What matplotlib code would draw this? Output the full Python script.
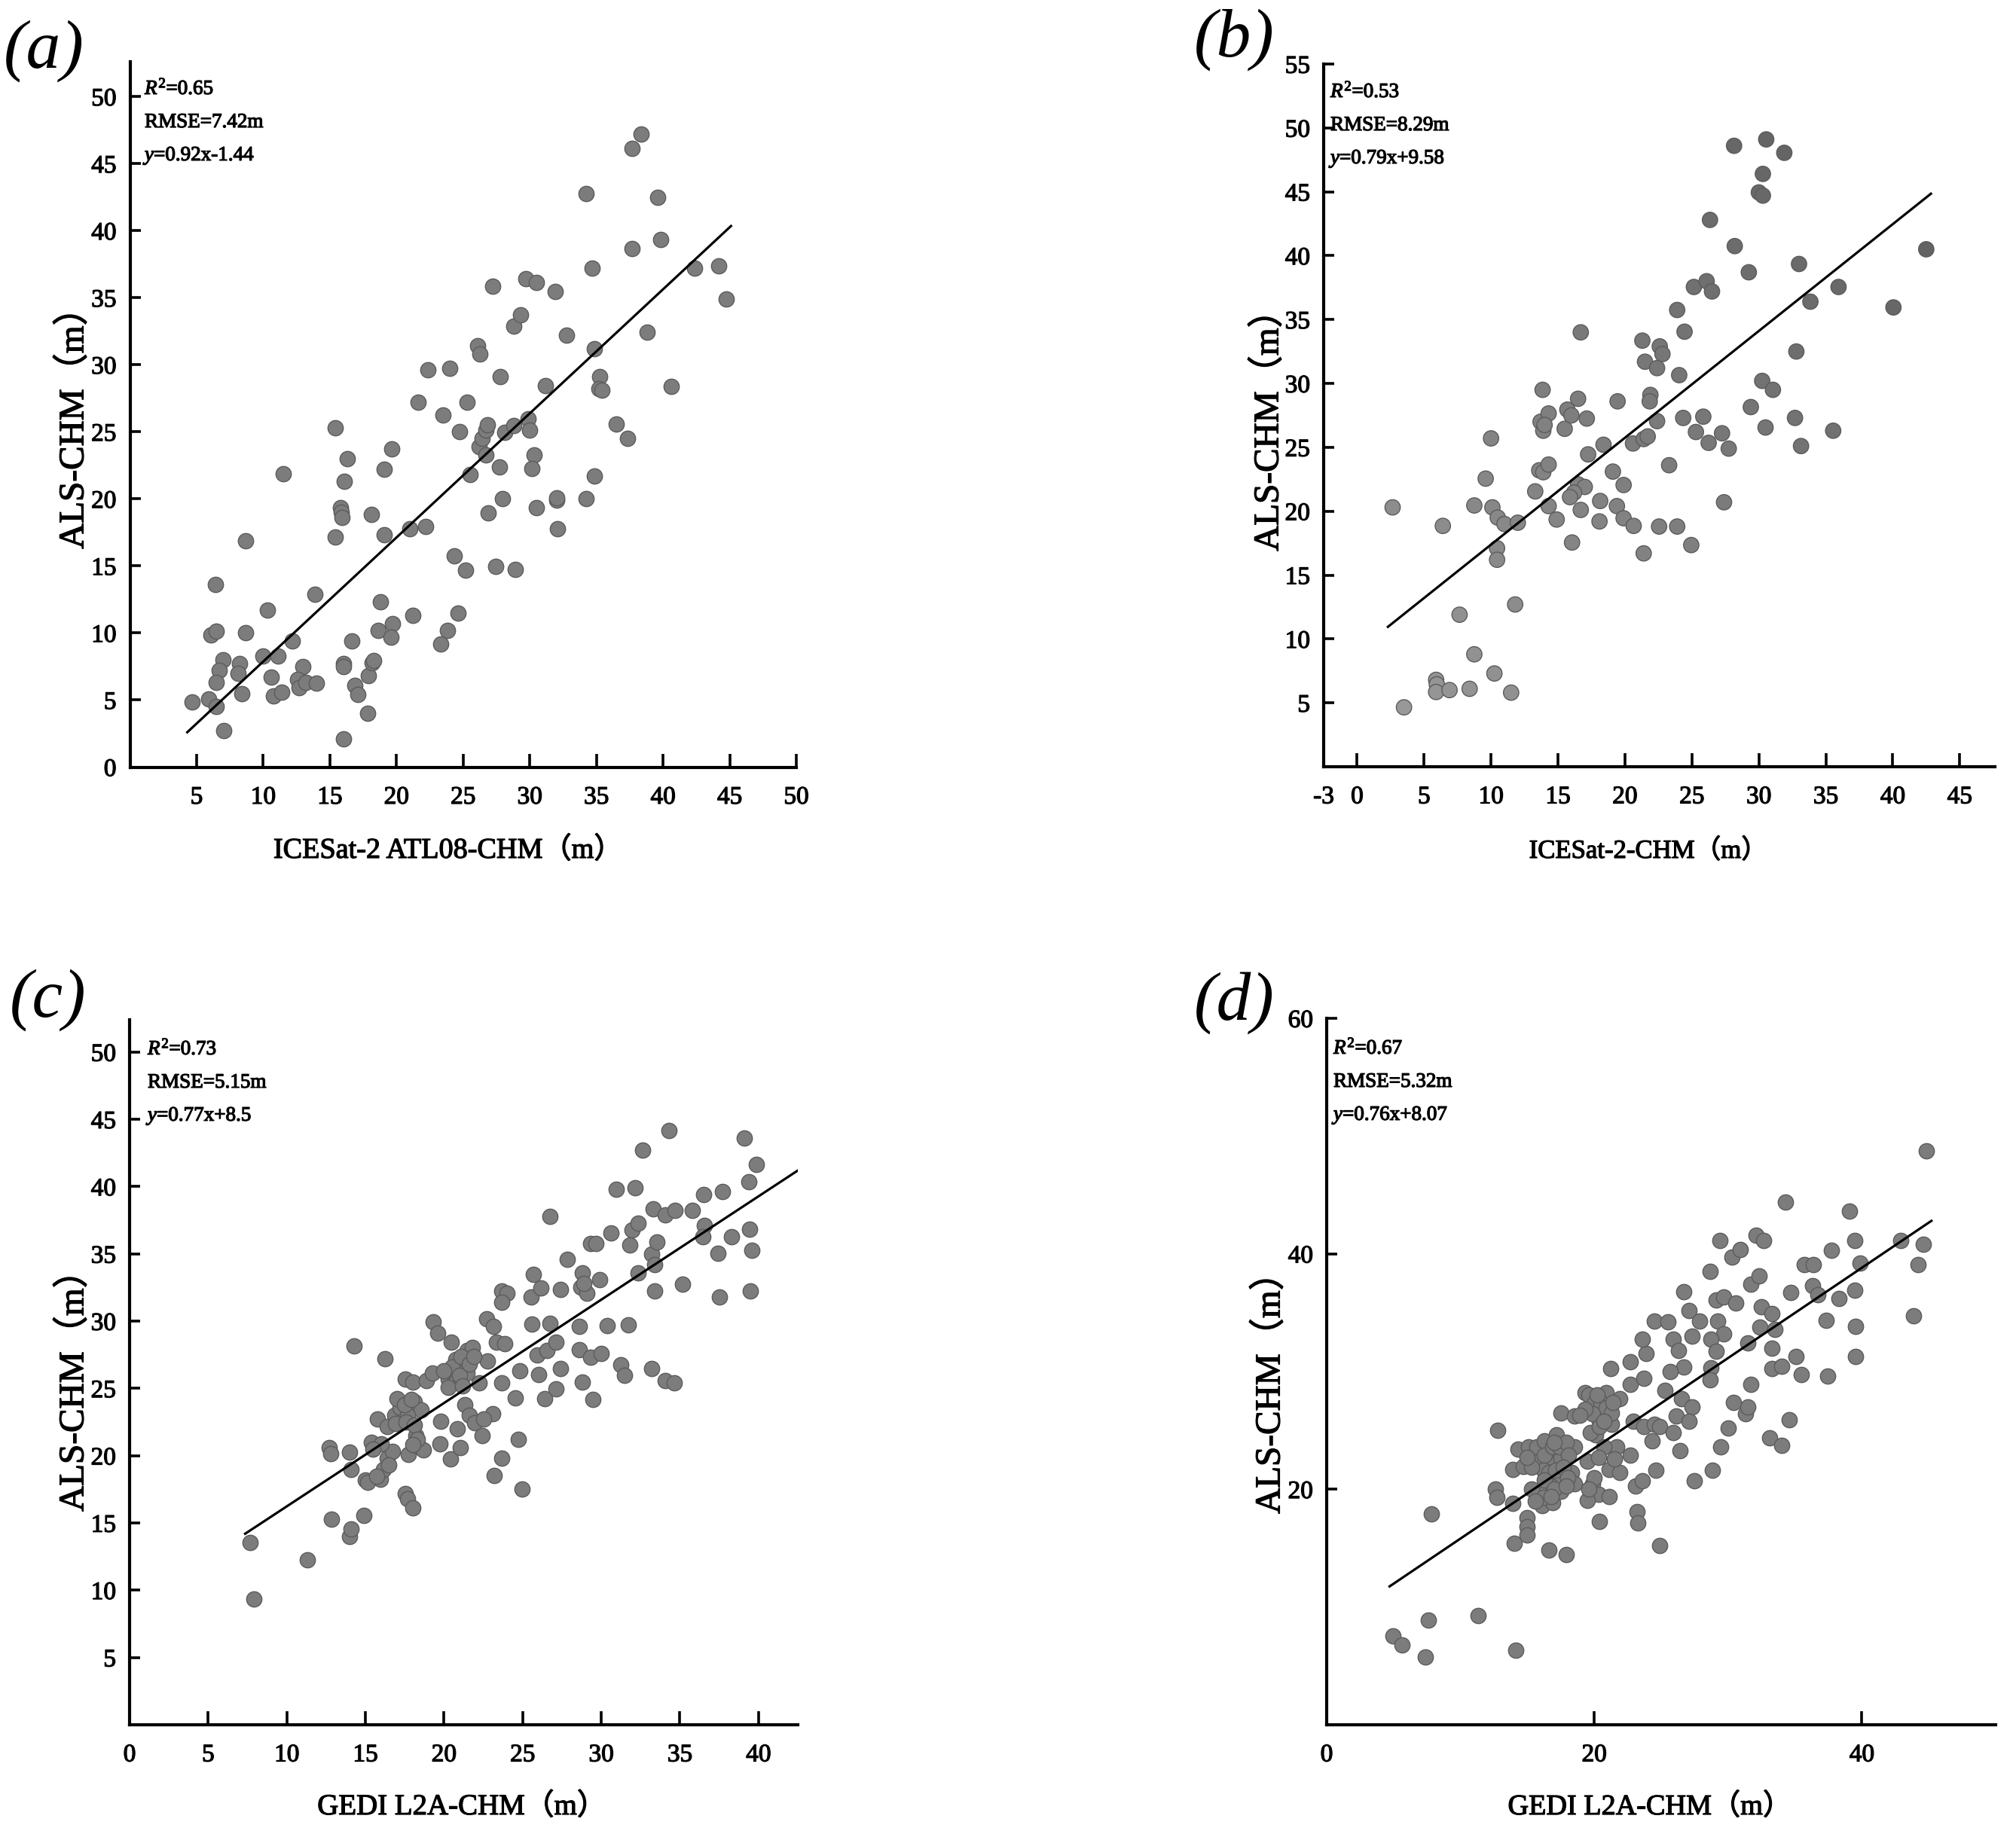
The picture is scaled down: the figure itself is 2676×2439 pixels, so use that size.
import matplotlib
matplotlib.use("Agg")
import matplotlib.pyplot as plt
import matplotlib.patheffects as pe

plt.rcParams['font.family'] = ['Liberation Serif', 'Noto Sans CJK SC']
plt.rcParams['mathtext.fontset'] = 'custom'
plt.rcParams['mathtext.rm'] = 'Liberation Serif'
plt.rcParams['mathtext.it'] = 'Liberation Serif:italic'

W, H = 2676, 2439

# panel a
a_x = [4.68, 5.9, 6.45, 7.05, 6.4, 6.1, 6.5, 8.7, 8.7, 10.3, 10.0, 11.1, 12.2, 11.5, 10.6, 10.75, 11.4, 7.0, 6.7, 6.5,
       8.2, 8.1, 8.4, 12.95, 12.55, 12.7, 13.2, 14.0, 13.9, 15.4, 16.3, 16.1, 15.8, 15.85, 15.9, 15.4, 16.05, 16.0, 16.05, 16.65,
       16.85, 17.1, 17.85, 17.9, 18.15, 18.3, 18.1, 19.1, 18.8, 18.6, 19.7, 19.6, 19.1, 19.65, 21.0, 22.2, 21.2, 21.6, 22.35, 23.5,
       24.0, 23.3, 23.8, 24.6, 24.35, 25.2, 24.75, 25.3, 25.5, 26.1, 26.25, 26.2, 26.4, 26.7, 26.8, 26.7, 26.9, 27.2, 27.45, 27.8,
       27.75, 27.95, 28.1, 28.9, 28.8, 28.8, 29.3, 29.7, 30.5, 29.9, 30.0, 30.3, 30.15, 30.5, 31.15, 31.9, 32.0, 32.0, 32.1, 32.75,
       34.25, 34.25, 34.7, 34.85, 34.85, 35.25, 35.2, 35.4, 36.5, 37.35, 37.7, 38.35, 37.65, 38.8, 39.6, 39.8, 40.6, 42.35, 44.2, 44.75]
a_y = [4.86, 5.1, 4.5, 2.7, 13.6, 9.85, 10.15, 10.0, 16.9, 11.7, 8.3, 8.3, 9.4, 21.85, 6.7, 5.3, 5.6, 8.0, 7.2, 6.3,
       7.7, 7.0, 5.5, 7.5, 6.55, 5.9, 6.3, 6.25, 12.9, 25.3, 23.0, 21.3, 19.35, 19.0, 18.6, 17.15, 2.1, 7.7, 7.5, 9.4,
       6.1, 5.4, 4.0, 6.85, 7.8, 7.95, 18.85, 17.3, 12.35, 10.2, 10.7, 9.7, 22.2, 23.75, 17.75, 17.95, 11.3, 27.2, 29.65, 26.25,
       29.75, 9.2, 10.2, 11.5, 15.75, 14.7, 25.0, 27.2, 21.8, 31.4, 30.8, 23.9, 24.5, 25.15, 25.55, 23.3, 18.95, 35.85, 14.95, 29.15,
       22.4, 20.05, 24.95, 14.75, 25.45, 32.9, 33.7, 36.4, 36.15, 26.0, 25.15, 23.3, 22.25, 19.35, 28.45, 35.45, 19.9, 20.1, 17.75, 32.2,
       42.75, 20.05, 37.2, 31.2, 21.7, 29.15, 28.2, 28.1, 25.6, 24.5, 46.15, 47.2, 38.65, 32.45, 42.5, 39.35, 28.4, 37.2, 37.4, 34.9]
a_line_x = [4.3, 45.1]
a_line_y = [2.6, 40.35]

# panel b
b_x = [2.65, 3.5, 6.4, 7.65, 8.75, 5.9, 5.95, 5.9, 6.9, 8.4, 10.25, 11.5, 11.8, 9.6, 10.0, 8.75, 10.1, 10.5, 11.0, 12.0,
       10.45, 10.45, 13.3, 13.85, 13.7, 13.9, 14.3, 14.0, 13.6, 13.9, 14.3, 14.3, 14.9, 15.5, 15.7, 16.0, 16.5, 16.7, 17.15, 17.25,
       16.5, 17.0, 16.2, 15.9, 16.7, 16.05, 18.15, 18.1, 18.4, 19.1, 19.45, 19.4, 19.9, 19.9, 20.65, 20.6, 21.4, 21.7, 21.3, 21.5,
       21.9, 21.85, 21.4, 22.4, 22.6, 22.8, 22.4, 22.55, 23.3, 23.9, 24.05, 23.9, 24.45, 24.35, 24.95, 25.15, 26.1, 26.5, 25.3, 25.85,
       26.25, 26.35, 27.25, 27.4, 27.75, 28.15, 28.2, 29.25, 29.4, 30.0, 30.3, 30.3, 30.55, 30.25, 31.05, 30.5, 31.9, 33.0, 32.8, 32.7,
       33.15, 33.85, 35.55, 35.95, 40.05, 42.5]
b_y = [20.3, 4.65, 18.85, 11.9, 8.8, 6.8, 6.45, 5.85, 6.0, 6.1, 7.3, 5.8, 12.7, 22.55, 25.7, 20.45, 20.3, 19.5, 19.0, 19.1,
       17.1, 16.2, 21.55, 29.5, 27.0, 26.3, 27.65, 26.75, 23.2, 23.05, 23.65, 20.4, 19.35, 26.45, 27.95, 27.5, 28.8, 34.0, 27.25, 24.45,
       22.1, 21.9, 21.45, 21.1, 20.1, 17.55, 20.8, 19.2, 25.2, 23.1, 28.6, 20.4, 22.05, 19.45, 18.85, 25.3, 25.65, 25.85, 33.35, 31.7,
       29.1, 28.6, 16.7, 27.05, 32.9, 32.3, 31.2, 18.8, 23.6, 18.8, 30.65, 35.75, 34.05, 27.3, 17.35, 37.55, 38.0, 37.2, 26.2, 27.4,
       25.35, 42.8, 26.1, 20.7, 24.9, 48.6, 40.75, 38.7, 28.15, 44.95, 44.7, 46.4, 49.1, 30.2, 29.5, 26.55, 48.05, 39.35, 32.5, 27.3,
       25.1, 36.4, 26.3, 37.55, 35.95, 40.5]
b_line_x = [2.3, 42.85]
b_line_y = [10.95, 44.85]

# panel c
c_x = [7.65, 7.9, 11.3, 12.7, 12.8, 12.85, 14.0, 14.1, 14.0, 14.1, 14.3, 14.9, 15.0, 15.15, 16.25, 15.4, 15.75, 15.95, 16.15, 16.4,
       16.7, 16.0, 16.4, 16.85, 17.2, 17.0, 17.35, 17.55, 18.0, 17.55, 17.7, 18.0, 17.75, 18.2, 18.4, 18.7, 18.1, 18.55, 17.7, 18.9,
       19.25, 19.3, 19.6, 19.75, 19.8, 20.25, 20.6, 20.95, 21.3, 21.45, 21.8, 20.45, 20.75, 21.1, 20.25, 21.45, 20.75, 20.4, 20.85, 21.05,
       21.3, 21.6, 21.95, 22.25, 22.4, 22.75, 23.1, 22.5, 22.7, 23.15, 23.2, 23.35, 23.85, 23.65, 23.65, 23.65, 24.0, 23.65, 24.55, 24.8,
       24.7, 24.95, 25.6, 25.7, 25.55, 26.15, 25.9, 26.0, 26.4, 26.75, 27.1, 26.75, 26.55, 27.1, 27.4, 27.4, 27.85, 28.6, 28.6, 28.8,
       28.8, 28.7, 29.1, 29.3, 29.65, 29.3, 30.0, 29.45, 29.9, 30.4, 30.6, 30.95, 31.25, 31.5, 31.7, 31.8, 31.95, 32.35, 32.15, 32.35,
       32.65, 33.2, 33.55, 33.4, 33.2, 33.3, 34.05, 34.7, 33.4, 34.05, 34.65, 34.3, 35.15, 35.8, 36.5, 36.55, 36.45, 37.4, 37.5, 37.7,
       38.3, 39.1, 39.4, 39.45, 39.6, 39.5, 39.85,
       20.5, 21.0, 21.1, 21.6, 21.2, 20.0, 21.9, 17.5, 17.9, 16.9, 17.6, 18.1, 18.3, 18.0, 16.5, 15.7, 15.5, 28.9]
c_y = [13.55, 9.35, 12.25, 20.6, 20.15, 15.3, 20.25, 19.0, 14.0, 14.55, 28.15, 15.55, 18.2, 18.05, 27.2, 21.0, 22.75, 18.25, 19.0, 19.8,
       20.3, 20.9, 22.15, 23.0, 23.55, 24.25, 22.55, 25.7, 25.5, 17.2, 16.8, 16.15, 20.1, 21.5, 20.65, 20.45, 24.0, 23.4, 23.0, 25.6,
       26.15, 29.95, 29.1, 20.9, 22.55, 25.7, 26.15, 26.55, 27.0, 27.8, 28.05, 28.45, 25.5, 25.7, 25.1, 26.15, 27.15, 19.75, 22.0, 20.6,
       23.8, 23.0, 22.45, 25.4, 21.5, 27.05, 23.1, 22.75, 30.15, 29.6, 18.55, 28.45, 28.35, 25.4, 19.8, 32.25, 32.1, 31.4, 24.3, 26.3,
       21.2, 17.5, 29.8, 33.5, 31.8, 32.45, 27.5, 26.05, 24.25, 29.85, 24.95, 37.8, 27.8, 28.45, 32.35, 26.5, 34.6, 29.6, 27.9, 25.5,
       33.6, 32.55, 32.1, 35.8, 35.8, 27.3, 27.6, 24.2, 33.1, 29.65, 36.55, 39.8, 26.75, 25.95, 29.7, 35.65, 36.8, 37.3, 39.9, 33.6,
       42.7, 35.0, 35.9, 32.25, 26.5, 38.35, 37.9, 38.25, 34.2, 25.6, 25.4, 44.15, 32.75, 38.25, 39.4, 37.1, 36.25, 35.05, 31.8, 39.65,
       36.3, 43.6, 40.35, 36.85, 35.25, 32.25, 41.65,
       26.6, 26.0, 27.4, 26.8, 25.2, 26.3, 27.4, 23.8, 24.2, 22.4, 22.5, 22.3, 21.2, 20.8, 19.3, 18.5, 20.5, 32.8]
c_line_x = [7.35, 42.5]
c_line_y = [14.2, 41.2]

# panel d
d_x = [4.95, 5.65, 7.4, 7.6, 7.85, 11.3, 14.15, 12.8, 12.6, 12.7, 13.9, 14.0, 15.0, 15.0, 15.0, 16.6, 17.9, 20.4, 23.2, 23.25,
       24.9, 24.6, 23.1, 23.6, 26.4, 27.45, 28.85, 29.45, 30.0, 31.3, 31.5, 30.4, 31.7, 33.1, 34.0, 34.6,
       14.3, 13.9, 14.7, 15.1, 15.7, 16.3, 17.2, 18.55, 17.7, 16.7, 15.9, 16.7, 17.5, 18.3, 18.55, 17.3, 16.7, 15.9, 15.3, 16.1, 16.9, 17.5,
       17.5, 18.5, 19.3, 19.7, 20.3, 20.9, 21.9, 20.7, 21.3, 20.1, 19.7, 21.2,
       19.5, 21.7, 21.1, 21.9, 22.7, 20.7, 19.9, 20.3, 21.1, 19.5,
       22.9, 23.7, 24.5, 24.9, 24.3, 22.7, 23.7, 22.7, 23.9, 23.6,
       24.5, 25.5, 25.9, 26.3, 26.7, 25.7, 25.3, 25.9, 26.1, 26.5, 27.3, 27.1, 26.7, 27.1, 27.85, 27.3,
       28.65, 29.4, 29.1, 29.7, 30.6, 29.2, 29.7, 28.7, 29.1, 28.7, 28.65, 30.3, 30.9, 32.1, 32.65, 31.7, 32.3, 31.45,
       32.5, 32.4, 33.3, 33.5, 33.3, 33.3, 34.0, 35.1, 35.45, 34.7, 34.3, 35.7, 36.4, 36.3, 36.7, 37.35, 37.45, 37.7, 38.3,
       39.1, 39.45, 39.85, 39.45, 39.55, 39.5, 42.9, 43.85, 44.2, 44.6, 44.8,
       16.3, 16.9, 17.4, 17.9, 18.1, 16.2, 16.6, 17.1, 17.7, 18.0, 16.3, 17.0, 16.2, 16.8, 15.6, 17.9, 15.3, 15.0, 17.0,
       19.6, 20.0, 20.5, 20.9, 21.3, 20.2, 19.9, 20.4, 19.3, 21.4, 20.7, 18.9, 21.5, 20.3, 20.0, 19.6]
d_y = [7.55, 6.75, 5.75, 8.9, 17.9, 9.3, 6.35, 25.0, 20.0, 19.3, 18.8, 15.4, 17.6, 16.8, 16.15, 14.85, 14.45, 17.25, 18.1, 17.15,
       15.25, 21.6, 20.25, 20.75, 23.3, 20.75, 21.65, 23.6, 25.2, 26.4, 27.0, 27.35, 28.9, 24.35, 23.75, 25.9,
       23.4, 21.7, 21.95, 23.6, 23.6, 24.1, 24.6, 23.6, 23.35, 23.1, 22.4, 22.15, 22.65, 21.4, 20.5, 20.75, 20.3, 19.8, 20.05, 18.6, 18.85, 19.8,
       26.5, 26.25, 28.2, 27.0, 26.0, 28.2, 27.7, 26.75, 25.55, 24.6, 24.8, 30.25,
       22.4, 23.6, 21.7, 21.45, 22.9, 23.6, 20.5, 19.55, 19.4, 19.05,
       25.8, 25.3, 25.55, 25.3, 24.1, 28.9, 29.4, 30.8, 31.55, 32.75,
       34.3, 34.2, 32.75, 31.8, 30.4, 30.0, 28.4, 24.8, 26.25, 27.7, 27.0, 25.8, 36.8, 35.15, 34.3, 33.0,
       38.5, 41.1, 36.1, 36.35, 35.85, 34.3, 33.2, 32.75, 31.7, 30.35, 29.3, 39.7, 40.35, 41.6, 41.1, 37.45, 38.1, 32.4,
       35.5, 33.8, 34.9, 33.6, 32.0, 30.25, 30.45, 31.3, 29.75, 36.7, 44.4, 39.1, 39.1, 37.3, 36.5, 34.35, 29.6, 40.3, 36.2,
       43.65, 41.1, 39.2, 36.9, 33.85, 31.25, 41.1, 34.75, 39.1, 40.8, 48.75,
       22.9, 23.6, 23.6, 24.0, 22.9, 21.6, 21.4, 21.6, 21.9, 21.0, 20.8, 20.0, 19.3, 19.4, 19.0, 20.3, 21.9, 22.7, 24.0,
       28.0, 27.3, 27.4, 26.9, 26.5, 28.0, 26.4, 25.3, 26.8, 27.4, 25.8, 26.3, 22.6, 22.7, 21.0, 20.0]
d_line_x = [4.7, 45.2]
d_line_y = [11.75, 42.8]

a_stats = ["$\\mathit{R}^2$=0.65", "RMSE=7.42m", "$\\mathit{y}$=0.92x-1.44"]
b_stats = ["$\\mathit{R}^2$=0.53", "RMSE=8.29m", "$\\mathit{y}$=0.79x+9.58"]
c_stats = ["$\\mathit{R}^2$=0.73", "RMSE=5.15m", "$\\mathit{y}$=0.77x+8.5"]
d_stats = ["$\\mathit{R}^2$=0.67", "RMSE=5.32m", "$\\mathit{y}$=0.76x+8.07"]

# the reference text is heavy, thicken it a bit
heavy = [pe.withStroke(linewidth=0.9, foreground="black")]


def put_text(fig, px, py, s, **kw):
    fig.text(px / W, 1 - py / H, s, path_effects=heavy, **kw)


def panel(fig, box, xlim, ylim, xticks, xlabels, yticks, ylabels, xs, ys, lx, ly,
          stats, stats_pos, letter, letter_pos, xlab, xlab_pos, xlab_size, ylab_pos, c="#7c7c7c"):
    left, right, bottom, top = box
    ax = fig.add_axes([left / W, 1 - bottom / H, (right - left) / W, (bottom - top) / H])
    ax.scatter(xs, ys, s=215, c=c, cmap="Greys", vmin=-184, vmax=205, edgecolors="#5c5c5c", linewidths=1.0, zorder=2)
    ax.plot(lx, ly, color="black", lw=2.3, zorder=3)
    ax.set_xlim(*xlim)
    ax.set_ylim(*ylim)
    ax.set_xticks(xticks)
    ax.set_xticklabels(xlabels)
    ax.set_yticks(yticks)
    ax.set_yticklabels(ylabels)
    ax.tick_params(axis="x", direction="in", length=13, width=2.6, labelsize=24, pad=18)
    ax.tick_params(axis="y", direction="in", length=10, width=2.6, labelsize=24, pad=13)
    for t in ax.get_xticklabels() + ax.get_yticklabels():
        t.set_path_effects(heavy)
    for s in ["top", "right"]:
        ax.spines[s].set_visible(False)
    for s in ["left", "bottom"]:
        ax.spines[s].set_linewidth(3)

    for i, t in enumerate(stats):
        put_text(fig, stats_pos[0], stats_pos[1] + i * 44, t, fontsize=19.5, va="baseline", ha="left")
    fig.text(letter_pos[0] / W, 1 - letter_pos[1] / H, letter, fontsize=66, style="italic", va="baseline", ha="left")
    put_text(fig, xlab_pos[0], xlab_pos[1], xlab, fontsize=xlab_size, va="baseline", ha="center")
    put_text(fig, ylab_pos[0], ylab_pos[1], "ALS-CHM（m）", fontsize=34, rotation=90, va="center", ha="center")
    return ax


fig = plt.figure(figsize=(W / 100, H / 100), dpi=100)

panel(fig, (172.5, 1057, 1018.5, 82), (0, 50), (0, 52.6),
      list(range(5, 55, 5)), [str(v) for v in range(5, 55, 5)],
      list(range(0, 55, 5)), [str(v) for v in range(0, 55, 5)],
      a_x, a_y, a_line_x, a_line_y, a_stats, (192, 125), "(a)", (5, 90),
      "ICESat-2 ATL08-CHM（m）", (595, 1139), 27.5, (98, 557))

# in b the dots get darker toward the upper right
b_shade = [x + y for x, y in zip(b_x, b_y)]
panel(fig, (1757, 2647.5, 1018, 85), (-2.5, 47.6), (0, 55),
      [-2.5] + list(range(0, 50, 5)), ["-3"] + [str(v) for v in range(0, 50, 5)],
      list(range(5, 60, 5)), [str(v) for v in range(5, 60, 5)],
      b_x, b_y, b_line_x, b_line_y, b_stats, (1766, 129), "(b)", (1585, 75),
      "ICESat-2-CHM（m）", (2188, 1139), 25, (1684, 560), c=b_shade)

panel(fig, (172, 1059, 2290, 1354), (0, 42.5), (0, 52.4),
      list(range(0, 45, 5)), [str(v) for v in range(0, 45, 5)],
      list(range(5, 55, 5)), [str(v) for v in range(5, 55, 5)],
      c_x, c_y, c_line_x, c_line_y, c_stats, (196, 1400), "(c)", (13, 1350),
      "GEDI L2A-CHM（m）", (613, 2409), 28, (98, 1835))

panel(fig, (1761, 2649, 2290, 1352), (0, 50), (0, 60),
      [0, 20, 40], ["0", "20", "40"],
      [20, 40, 60], ["20", "40", "60"],
      d_x, d_y, d_line_x, d_line_y, d_stats, (1770, 1399), "(d)", (1585, 1354),
      "GEDI L2A-CHM（m）", (2190, 2409), 27.5, (1686, 1838))

fig.savefig("out.png", dpi=100)
